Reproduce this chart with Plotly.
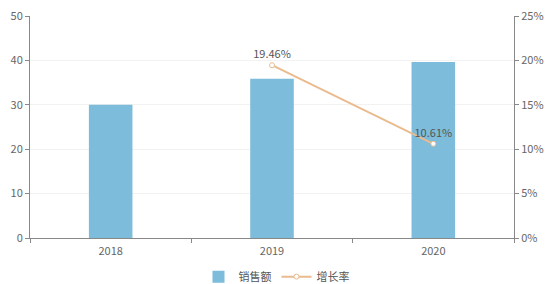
import plotly.graph_objects as go

years = ["2018", "2019", "2020"]
sales = [30.0, 35.84, 39.64]
growth_years = ["2019", "2020"]
growth = [19.46, 10.61]
growth_labels = ["19.46%", "10.61%"]

fig = go.Figure()
fig.add_trace(go.Bar(
    x=years, y=sales, name="销售额", width=0.27,
    marker=dict(color="#7DBCDA", line=dict(width=0)),
))
fig.add_trace(go.Scatter(
    x=growth_years, y=growth, name="增长率", yaxis="y2",
    mode="lines+markers+text", text=growth_labels,
    textposition="top center", textfont=dict(color="#555", size=11),
    line=dict(color="#E9BB8E", width=2),
    marker=dict(symbol="circle", size=5, color="white",
                line=dict(color="#E9BB8E", width=1)),
))

font = dict(family="Noto Sans CJK SC, Open Sans, sans-serif", size=11, color="#666")
fig.update_layout(
    width=553, height=284,
    margin=dict(l=30, r=39, t=16, b=46, autoexpand=False),
    paper_bgcolor="white", plot_bgcolor="white",
    font=font,
    showlegend=True,
    legend=dict(orientation="h", x=0.5, xanchor="center", xref="container",
                y=0.077, yanchor="top", yref="container",
                font=dict(size=11, color="#555")),
    xaxis=dict(showline=True, linecolor="#888", linewidth=1, ticks="outside",
               tickson="boundaries", ticklen=4, tickcolor="#888",
               ticklabelstandoff=3,
               showgrid=False, tickfont=dict(size=11, color="#666")),
    yaxis=dict(range=[0, 50], dtick=10, showline=True, linecolor="#888",
               ticks="outside", ticklen=4, tickcolor="#888",
               gridcolor="#F2F2F2", zeroline=False),
    yaxis2=dict(range=[0, 25], dtick=5, overlaying="y", side="right",
                showline=True, linecolor="#888", ticks="outside", ticklen=4,
                tickcolor="#888", ticksuffix="%", showgrid=False, zeroline=False),
)
fig.write_html("out.html")
